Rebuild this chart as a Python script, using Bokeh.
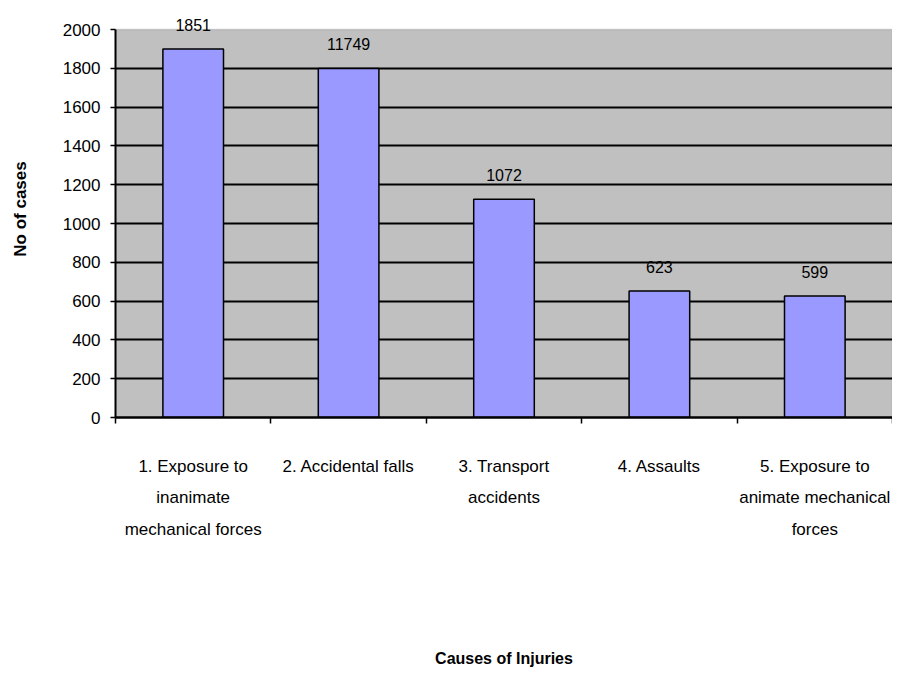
from bokeh.plotting import figure
from bokeh.models import ColumnDataSource, LabelSet, FixedTicker, Range1d, BoxAnnotation
from bokeh.core.properties import value
from bokeh.embed import file_html
from bokeh.resources import INLINE

categories = [
    "1. Exposure to\ninanimate\nmechanical forces",
    "2. Accidental falls",
    "3. Transport\naccidents",
    "4. Assaults",
    "5. Exposure to\nanimate mechanical\nforces",
]
bar_heights = [1900, 1800, 1125, 652, 627]
bar_labels = ["1851", "11749", "1072", "623", "599"]
y_ticks = [0, 200, 400, 600, 800, 1000, 1200, 1400, 1600, 1800, 2000]
y_max = 2000

FONT = "Liberation Sans"

xs = [i + 0.5 for i in range(len(categories))]
src = ColumnDataSource(dict(x=xs, top=bar_heights, label=bar_labels))

# frame reaches a little above the 2000 line so that the top value label is not clipped
p = figure(width=892, height=670, output_backend="svg", toolbar_location=None,
           x_range=Range1d(0, len(categories)), y_range=Range1d(0, 2150),
           min_border_left=115, min_border_right=0, min_border_top=0,
           min_border_bottom=253)

p.background_fill_color = "white"
p.border_fill_color = "white"
p.outline_line_color = None

plot_area = BoxAnnotation(bottom=0, top=y_max, fill_color="#C0C0C0", fill_alpha=1,
                          line_color="#808080", line_width=1.5, level="image")
p.add_layout(plot_area)

p.vbar(x="x", top="top", bottom=0, width=0.39, source=src,
       fill_color="#9999FF", line_color="black", line_width=1.5)

labels = LabelSet(x="x", y="top", text="label", source=src, y_offset=18,
                  text_align="center", text_baseline="alphabetic",
                  text_font=value(FONT), text_font_size="16px", text_color="black")
p.add_layout(labels)

# grid
p.xgrid.grid_line_color = None
p.ygrid.grid_line_color = "black"
p.ygrid.grid_line_width = 2
p.ygrid.ticker = FixedTicker(ticks=y_ticks[:-1])

# y axis
ya = p.yaxis[0]
ya.ticker = FixedTicker(ticks=y_ticks)
ya.bounds = (0, y_max)
ya.axis_line_color = "black"
ya.axis_line_width = 2
ya.major_tick_line_color = "black"
ya.major_tick_line_width = 1.5
ya.major_tick_out = 5
ya.major_tick_in = 0
ya.minor_tick_line_color = None
ya.major_label_standoff = 10
ya.major_label_text_font = FONT
ya.major_label_text_font_size = "17px"
ya.major_label_text_color = "black"
ya.axis_label = "No of cases"
ya.axis_label_text_font = FONT
ya.axis_label_text_font_style = "bold"
ya.axis_label_text_font_size = "17px"
ya.axis_label_text_color = "black"
ya.axis_label_standoff = 30

# x axis
xa = p.xaxis[0]
xa.ticker = FixedTicker(ticks=xs, minor_ticks=list(range(len(categories) + 1)))
xa.major_label_overrides = {x: c for x, c in zip(xs, categories)}
xa.axis_line_color = "black"
xa.axis_line_width = 2.5
xa.major_tick_line_color = None
xa.major_tick_out = 6
xa.minor_tick_line_color = "black"
xa.minor_tick_line_width = 1.5
xa.minor_tick_out = 6
xa.minor_tick_in = 0
xa.major_label_standoff = 33
xa.major_label_text_font = FONT
xa.major_label_text_font_size = "17px"
xa.major_label_text_line_height = 1.68
xa.major_label_text_color = "black"
xa.axis_label = "Causes of Injuries"
xa.axis_label_text_font = FONT
xa.axis_label_text_font_style = "bold"
xa.axis_label_text_font_size = "16px"
xa.axis_label_text_color = "black"
xa.axis_label_text_baseline = "alphabetic"
xa.axis_label_standoff = 108

open("out.html", "w").write(file_html(p, INLINE))
